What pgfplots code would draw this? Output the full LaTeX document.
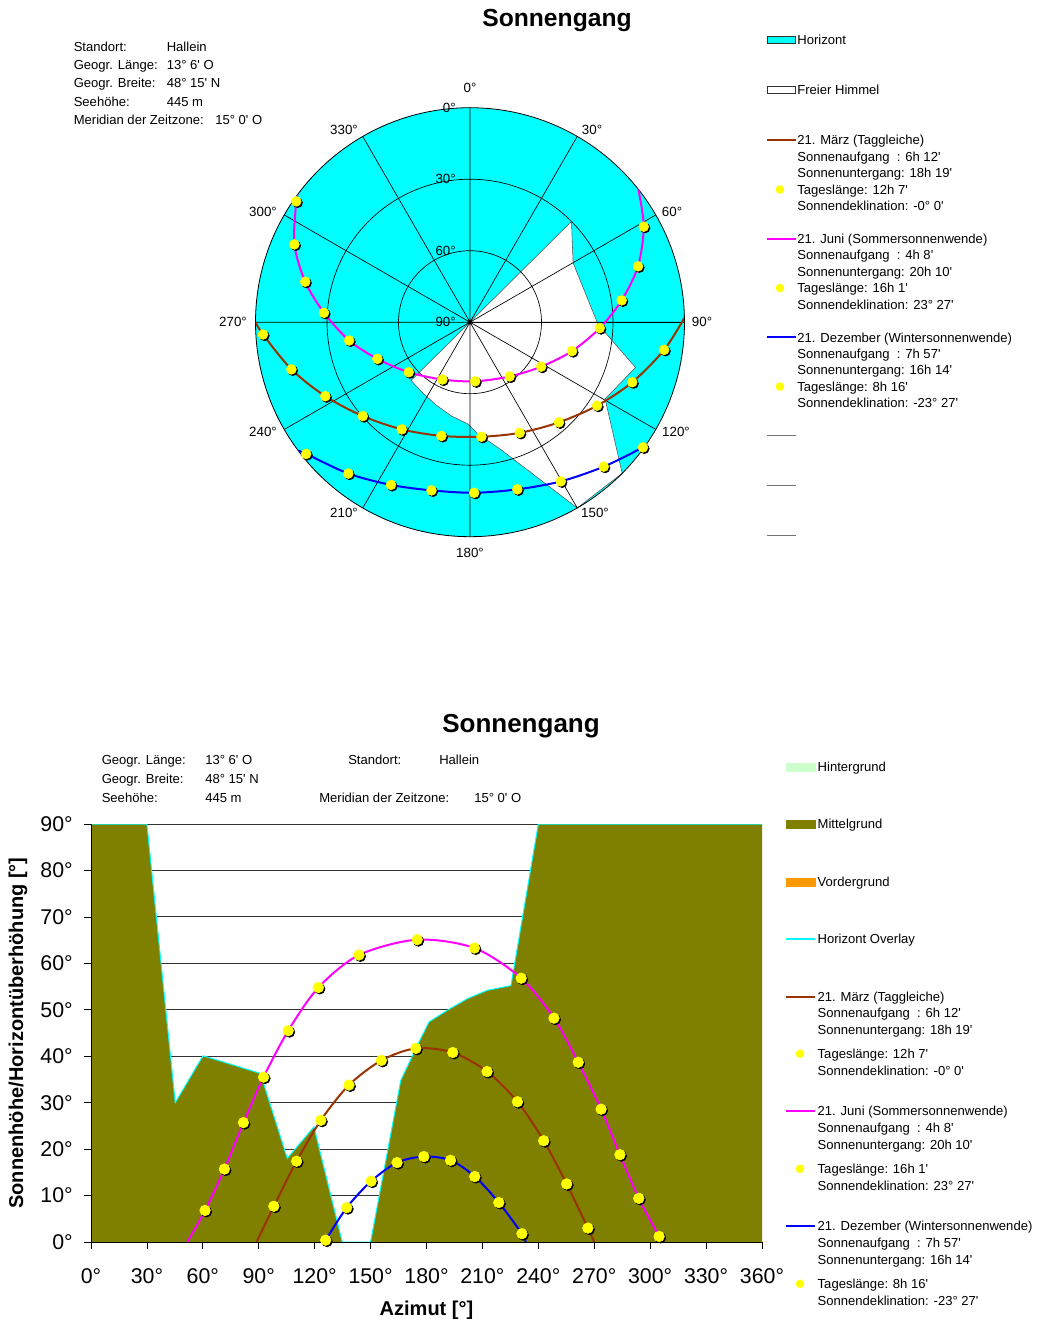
\documentclass[border=0pt]{standalone}
\usepackage{fontspec}
\defaultfontfeatures[\rmfamily]{}
\setmainfont{Liberation Sans}
\usepackage{pgfplots}
\usepackage{pgfplotstable}
\usepgfplotslibrary{polar}
\pgfplotsset{compat=1.18}

\definecolor{hcyan}{RGB}{0,255,255}
\definecolor{mgrund}{RGB}{128,128,0}
\definecolor{hgrund}{RGB}{204,255,204}
\definecolor{vgrund}{RGB}{255,153,0}
\definecolor{sbrown}{RGB}{153,51,0}
\definecolor{smag}{RGB}{255,0,255}
\definecolor{sblue}{RGB}{0,0,255}
\definecolor{syel}{RGB}{255,255,0}

\newcommand\lr[1]{\rule[-3pt]{0pt}{#1}}
\newcommand\infofont{\fontsize{9.8}{11}\selectfont}

% Horizont (Azimut, Hoehe)
\pgfplotstableread{
az alt
0 90
30 90
45.2 30
60.1 40.1
90.9 36.3
105.3 18.0
119.6 24.8
134.8 0
150 0
166.2 34.8
176 43.1
181.4 47.4
191.2 49.9
202 52.4
212.7 54.2
225.3 55.2
240 90
360 90
}\horizon

% 21. Juni
\pgfplotstableread{
az alt
51.7 0
61.2 6.8
71.6 15.7
81.8 25.7
92.6 35.5
105.8 45.5
122.0 54.8
143.8 61.8
175.0 65.1
205.7 63.3
230.8 56.8
248.4 48.2
261.4 38.7
273.7 28.6
283.8 18.8
293.9 9.4
304.8 1.2
306.6 0
}\juni

% 21. Maerz
\pgfplotstableread{
az alt
88.8 0
98.1 7.7
110.3 17.4
123.3 26.2
138.4 33.8
155.8 39.1
174.3 41.7
194.1 40.8
212.5 36.7
228.8 30.2
242.9 21.8
255.2 12.5
266.6 3.0
270.0 0
}\maerz

% 21. Dezember
\pgfplotstableread{
az alt
125.3 0
125.9 0.4
137.2 7.4
150.3 13.1
164.2 17.1
178.6 18.4
192.9 17.6
205.9 14.1
218.8 8.5
231.2 1.8
233.2 0
}\dez

\pgfplotsset{
  mylegend/.style={legend style={draw=none, fill=none, inner sep=0pt, outer sep=0pt,
      row sep=0pt, column sep=#1, font=\infofont,
      cells={anchor=base west}, nodes={inner sep=0pt, outer sep=0pt}}},
  /pgfplots/table/polxy/.style={x expr={90-\thisrow{az}}, y expr={90-\thisrow{alt}}},
  dots/.style={restrict expr to domain={\thisrow{alt}}{0.1:90}},
  shadow/.style={forget plot, only marks, mark=*, mark size=#1, black, mark options={xshift=1pt, yshift=-1pt}, dots},
  sun/.style={forget plot, only marks, mark=*, mark size=#1, syel, dots},
  lline/.style={legend image code/.code={\draw[#1] (0pt,3.5pt) -- (22pt,3.5pt);}},
  lrect/.style={legend image code/.code={\draw[#1] (0pt,0.9pt) rectangle (21pt,6.1pt);}},
  lbar/.style={legend image code/.code={\fill[#1] (0pt,0.5pt) rectangle (22pt,6.5pt);}},
  ldot/.style={legend image code/.code={\draw[only marks, mark=*, mark size=3pt, syel] plot coordinates {(#1,3.5pt)};}},
}

\begin{document}
\begin{tikzpicture}
\begin{scope}[x=0.75pt,y=-0.75pt]
\node[font=\fontsize{18.5}{20}\selectfont\bfseries] at (557,21) {Sonnengang};
\node[font=\fontsize{19.5}{21}\selectfont\bfseries] at (521,726) {Sonnengang};
\begin{scope}[every node/.style={anchor=base west, inner sep=0pt, font=\infofont}]
\node at (73.5,51.2) {Standort:};              \node at (166.5,51.2) {Hallein};
\node at (73.5,69.5) {Geogr. Länge:};          \node at (166.5,69.5) {13° 6' O};
\node at (73.5,87.8) {Geogr. Breite:};         \node at (166.5,87.8) {48° 15' N};
\node at (73.5,106.2) {Seehöhe:};              \node at (166.5,106.2) {445 m};
\node at (73.5,124.5) {Meridian der Zeitzone:}; \node at (215,124.5) {15° 0' O};
\node at (101.5,764.5) {Geogr. Länge:};        \node at (205,764.5) {13° 6' O};
\node at (101.5,783.5) {Geogr. Breite:};       \node at (205,783.5) {48° 15' N};
\node at (101.5,802.8) {Seehöhe:};             \node at (205,802.8) {445 m};
\node at (348,764.5) {Standort:};              \node at (439,764.5) {Hallein};
\node at (319,802.8) {Meridian der Zeitzone:}; \node at (474,802.8) {15° 0' O};
\end{scope}
% Beschriftung der Azimutstrahlen
\begin{scope}[every node/.style={anchor=center, inner sep=0pt, font=\fontsize{10}{12}\selectfont}]
\node at (470,88) {0°};    \node at (592,130) {30°};  \node at (672,211.5) {60°};
\node at (702,322) {90°};  \node at (676,432) {120°}; \node at (595,513) {150°};
\node at (470,553) {180°}; \node at (344,513) {210°}; \node at (263,432) {240°};
\node at (233,322) {270°}; \node at (263,211.5) {300°}; \node at (344,130) {330°};
\end{scope}
\end{scope}

% ---------- Polardiagramm: Horizont und Gitter ----------
\begin{polaraxis}[
  at={(352.5pt,-241.65pt)}, anchor=center,
  width=321.75pt, height=321.75pt, scale only axis,
  xmin=0, xmax=360, ymin=0, ymax=90,
  clip=false,
  xtick={0,30,...,330}, xticklabels={},
  ytick={30,60}, yticklabels={},
  grid=major, major grid style={black, line width=0.5pt},
  axis line style={black, line width=0.6pt},
  tick style={draw=none},
  axis background/.style={fill=hcyan},
  axis on top,
]
\addplot[fill=white, draw=black!70, line width=0.4pt] table[polxy] {\horizon};
\begin{scope}[every node/.style={anchor=east, inner sep=0pt, font=\fontsize{10}{12}\selectfont, xshift=-10.5pt}]
\node at (axis cs:90,90) {0°};
\node at (axis cs:90,60) {30°};
\node at (axis cs:90,30) {60°};
\node at (axis cs:90,0) {90°};
\end{scope}
\end{polaraxis}

% ---------- Polardiagramm: Sonnenbahnen ----------
\begin{polaraxis}[
  at={(352.5pt,-241.65pt)}, anchor=center,
  width=321.75pt, height=321.75pt, scale only axis,
  xmin=0, xmax=360, ymin=0, ymax=90,
  hide axis,
  mylegend=0pt,
  legend style={at={(1.19,1.1683)}, anchor=north west},
]
\addplot[forget plot, sbrown, line width=1.5pt, smooth] table[polxy] {\maerz};
\addplot[forget plot, smag, line width=1.5pt, smooth] table[polxy] {\juni};
\addplot[forget plot, sblue, line width=1.5pt, smooth] table[polxy] {\dez};
\addplot[shadow=3.7pt] table[polxy] {\maerz};
\addplot[sun=3.7pt] table[polxy] {\maerz};
\addplot[shadow=3.7pt] table[polxy] {\juni};
\addplot[sun=3.7pt] table[polxy] {\juni};
\addplot[shadow=3.7pt] table[polxy] {\dez};
\addplot[sun=3.7pt] table[polxy] {\dez};
\addlegendimage{lrect={fill=hcyan, draw=black!80, line width=0.6pt}}
\addlegendentry{\lr{9pt}Horizont}
\addlegendimage{lrect={fill=white, draw=black!80, line width=0.6pt}}
\addlegendentry{\lr{39pt}Freier Himmel}
\addlegendimage{lline={sbrown, line width=1.5pt}}
\addlegendentry{\lr{39pt}21. März (Taggleiche)}
\addlegendimage{empty legend}\addlegendentry{\lr{13.8pt}Sonnenaufgang\ \ : 6h 12'}
\addlegendimage{empty legend}\addlegendentry{\lr{13.8pt}Sonnenuntergang: 18h 19'}
\addlegendimage{ldot=9.75pt}\addlegendentry{\lr{13.8pt}Tageslänge: 12h 7'}
\addlegendimage{empty legend}\addlegendentry{\lr{13.8pt}Sonnendeklination: -0° 0'}
\addlegendimage{lline={smag, line width=1.5pt}}
\addlegendentry{\lr{26.2pt}21. Juni (Sommersonnenwende)}
\addlegendimage{empty legend}\addlegendentry{\lr{13.8pt}Sonnenaufgang\ \ : 4h 8'}
\addlegendimage{empty legend}\addlegendentry{\lr{13.8pt}Sonnenuntergang: 20h 10'}
\addlegendimage{ldot=9.75pt}\addlegendentry{\lr{13.8pt}Tageslänge: 16h 1'}
\addlegendimage{empty legend}\addlegendentry{\lr{13.8pt}Sonnendeklination: 23° 27'}
\addlegendimage{lline={sblue, line width=1.5pt}}
\addlegendentry{\lr{26.2pt}21. Dezember (Wintersonnenwende)}
\addlegendimage{empty legend}\addlegendentry{\lr{13.8pt}Sonnenaufgang\ \ : 7h 57'}
\addlegendimage{empty legend}\addlegendentry{\lr{13.8pt}Sonnenuntergang: 16h 14'}
\addlegendimage{ldot=9.75pt}\addlegendentry{\lr{13.8pt}Tageslänge: 8h 16'}
\addlegendimage{empty legend}\addlegendentry{\lr{13.8pt}Sonnendeklination: -23° 27'}
\addlegendimage{lline={black!55, line width=0.8pt}}
\addlegendentry{\lr{26.2pt}}
\addlegendimage{lline={black!55, line width=0.8pt}}
\addlegendentry{\lr{39pt}}
\addlegendimage{lline={black!55, line width=0.8pt}}
\addlegendentry{\lr{39pt}}
\end{polaraxis}

% ---------- Kartesisches Diagramm ----------
\begin{axis}[
  at={(68.25pt,-931.5pt)}, anchor=south west,
  width=503.25pt, height=313.5pt, scale only axis,
  xmin=0, xmax=360, ymin=0, ymax=90,
  xtick={0,30,...,360},
  xticklabels={0°,30°,60°,90°,120°,150°,180°,210°,240°,270°,300°,330°,360°},
  ytick={0,10,...,90},
  yticklabels={0°,10°,20°,30°,40°,50°,60°,70°,80°,90°},
  axis x line*=bottom, axis y line*=left, axis line style={-},
  ymajorgrids, major grid style={black!80, line width=0.75pt},
  tick align=outside, major tick length=5pt, tick style={black, line width=0.6pt},
  tick label style={font=\fontsize{16}{18}\selectfont},
  xticklabel style={anchor=north, inner sep=0pt, yshift=-15pt},
  yticklabel style={anchor=east, inner sep=0pt, xshift=-8.5pt},
  label style={font=\fontsize{15}{17}\selectfont\bfseries},
  xlabel={Azimut [°]}, ylabel={Sonnenhöhe/Horizontüberhöhung [°]},
  xlabel style={at={(0.5,-0.163)}, anchor=center},
  ylabel style={at={(-0.1088,0.5)}, anchor=center},
  mylegend=1pt,
  legend style={at={(1.0343,1.1483)}, anchor=north west},
]
\addplot[forget plot, fill=mgrund, draw=none] table {\horizon} \closedcycle;
\addplot[forget plot, hcyan, line width=0.75pt] table {\horizon};
\addplot[forget plot, sbrown, line width=1.5pt, smooth] table {\maerz};
\addplot[forget plot, smag, line width=1.5pt, smooth] table {\juni};
\addplot[forget plot, sblue, line width=1.5pt, smooth] table {\dez};
\addplot[shadow=4pt] table {\maerz};
\addplot[sun=4pt] table {\maerz};
\addplot[shadow=4pt] table {\juni};
\addplot[sun=4pt] table {\juni};
\addplot[shadow=4pt] table {\dez};
\addplot[sun=4pt] table {\dez};
\draw[black, line width=0.75pt] (rel axis cs:0,1) -- (rel axis cs:0,0) -- (rel axis cs:1,0);
\addlegendimage{lbar=hgrund}\addlegendentry{\lr{9pt}Hintergrund}
\addlegendimage{lbar=mgrund}\addlegendentry{\lr{44.6pt}Mittelgrund}
\addlegendimage{lbar=vgrund}\addlegendentry{\lr{44.6pt}Vordergrund}
\addlegendimage{lline={hcyan, line width=1.2pt}}\addlegendentry{\lr{44.6pt}Horizont Overlay}
\addlegendimage{lline={sbrown, line width=1.5pt}}\addlegendentry{\lr{44.6pt}21. März (Taggleiche)}
\addlegendimage{empty legend}\addlegendentry{\lr{13.9pt}Sonnenaufgang\ \ : 6h 12'}
\addlegendimage{empty legend}\addlegendentry{\lr{13.9pt}Sonnenuntergang: 18h 19'}
\addlegendimage{ldot=10.5pt}\addlegendentry{\lr{19.5pt}Tageslänge: 12h 7'}
\addlegendimage{empty legend}\addlegendentry{\lr{14.25pt}Sonnendeklination: -0° 0'}
\addlegendimage{lline={smag, line width=1.5pt}}\addlegendentry{\lr{31.5pt}21. Juni (Sommersonnenwende)}
\addlegendimage{empty legend}\addlegendentry{\lr{14.25pt}Sonnenaufgang\ \ : 4h 8'}
\addlegendimage{empty legend}\addlegendentry{\lr{14.25pt}Sonnenuntergang: 20h 10'}
\addlegendimage{ldot=10.5pt}\addlegendentry{\lr{19.5pt}Tageslänge: 16h 1'}
\addlegendimage{empty legend}\addlegendentry{\lr{14.25pt}Sonnendeklination: 23° 27'}
\addlegendimage{lline={sblue, line width=1.5pt}}\addlegendentry{\lr{31.5pt}21. Dezember (Wintersonnenwende)}
\addlegendimage{empty legend}\addlegendentry{\lr{14.25pt}Sonnenaufgang\ \ : 7h 57'}
\addlegendimage{empty legend}\addlegendentry{\lr{14.25pt}Sonnenuntergang: 16h 14'}
\addlegendimage{ldot=10.5pt}\addlegendentry{\lr{19.5pt}Tageslänge: 8h 16'}
\addlegendimage{empty legend}\addlegendentry{\lr{14.25pt}Sonnendeklination: -23° 27'}
\end{axis}
\pgfresetboundingbox
\path[use as bounding box] (0pt,0pt) rectangle (781.5pt,-989.25pt);
\end{tikzpicture}
\end{document}
